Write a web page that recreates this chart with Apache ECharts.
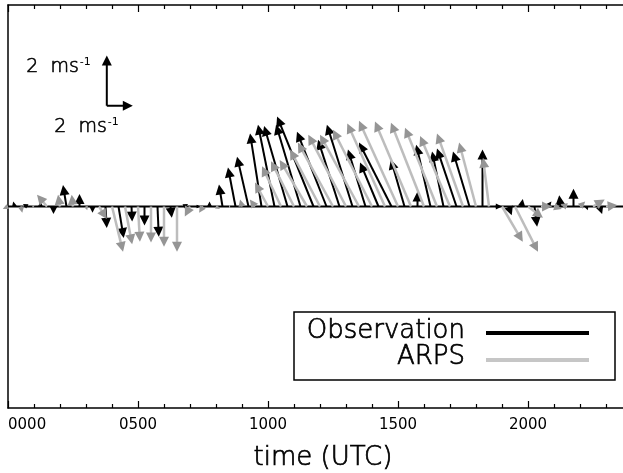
<!DOCTYPE html>
<html>
<head>
<meta charset="utf-8">
<script src="https://cdn.jsdelivr.net/npm/echarts@6/dist/echarts.min.js"></script>
<style>html,body{margin:0;padding:0;background:#fff}#c{width:623px;height:473px}</style>
</head>
<body>
<div id="c"></div>
<script>
// ---- data (hours UTC; u, v in m/s) ----
var tickLabels = ['0000', '0500', '1000', '1500', '2000', '2500'];

var obsTime = [0.25,0.75,1.25,1.75,2.25,2.75,3.25,3.75,4.25,4.75,5.25,5.75,6.25,6.75,7.25,7.75,
  8.25,8.75,9.25,9.75,10.25,10.75,11.25,11.75,12.25,12.75,13.25,13.75,14.25,14.75,15.25,15.75,
  16.25,16.75,17.25,17.75,18.25,18.75,19.25,19.75,20.25,20.75,21.25,21.75,22.25,22.75,23.25,23.75];
var obsU = [-0.1,-0.35,0,0,-0.27,0,0,0.1,0.4,0.05,0,0.1,0.1,0.35,0.3,
  0,-0.27,-0.58,-0.88,-0.88,-1.27,-1.8,-1.88,-2.8,-2.27,-1.65,-1.97,-1.35,-1.42,-2.5,-1.05,
  0,-1.1,-0.88,-1.5,-1.27,0,0.5,0.25,0.1,0.2,0.3,-0.1,0,0.1,0.2,0.1,0];
var obsV = [0.2,0.1,0.2,-0.3,0.85,0.5,-0.25,-0.85,-1.25,-0.6,-0.75,-1.2,-0.45,0.1,0,
  0.2,0.87,1.55,1.98,2.9,3.25,3.2,3.25,3.57,2.97,2.65,3.25,2.26,1.75,2.54,1.87,
  0.6,2.45,2.18,2.3,2.18,2.26,0,-0.35,0.3,-0.8,0.2,0.45,0.7,-0.15,-0.3,0.1,0];

var arpsTime = [0,0.5,1,1.5,2,2.5,3,3.5,4,4.5,5,5.5,6,6.5,7,7.5,
  8,8.5,9,9.5,10,10.5,11,11.5,12,12.5,13,13.5,14,14.5,15,15.5,
  16,16.5,17,17.5,18,18.5,19,19.5,20,20.5,21,21.5,22,22.5,23,23.5];
var arpsU = [-0.4,0.1,-0.2,-0.77,-0.15,-0.1,0.1,0.6,0.85,0.55,0.15,0,0,0,-0.4,-0.3,
  0.3,0.1,-0.15,-0.4,-1.0,-1.46,-1.77,-2.1,-2.3,-2.7,-2.9,-3.0,-3.0,-2.9,-3.0,-2.77,
  -2.54,-2.46,-2.3,-2.0,-1.3,-0.46,1.6,1.77,1.15,0.85,0.6,-0.5,0.4,0.9,0.9,0];
var arpsV = [-0.1,-0.25,0.05,0.47,0.47,0.47,-0.15,-0.5,-1.8,-1.5,-1.4,-1.43,-1.6,-1.8,-0.4,-0.25,
  -0.1,0,0.28,0.28,0.95,1.6,1.8,1.85,2.26,2.54,2.85,2.85,3.05,3.3,3.4,3.37,
  3.33,3.13,2.8,2.9,2.54,1.94,-1.4,-1.8,-0.45,0,-0.1,0.1,0.2,0.28,0.05,0];

// reference (scale) arrows: origin time, origin v, u, v
var scaleTime = [3.8, 3.8];
var scaleBase = [4.0, 4.0];
var scaleU = [0, 2];
var scaleV = [2, 0];

function zip(t, u, v, b) {
  return t.map(function (x, i) { return [x, u[i], v[i], b ? b[i] : 0]; });
}

function makeRender(lineColor, headColor, lw, headLen) {
  return function (params, api) {
    var t = api.value(0), u = api.value(1), v = api.value(2), y0 = api.value(3);
    var p0 = api.coord([t, y0]);
    var p1 = api.coord([t + u * 0.5, y0 + v]);
    var dx = p1[0] - p0[0], dy = p1[1] - p0[1];
    var L = Math.sqrt(dx * dx + dy * dy);
    if (L < 0.5) return null;
    var hl = Math.min(headLen, L * 0.95), hw = hl * 0.5;
    var ux = dx / L, uy = dy / L;
    var bx = p1[0] - ux * hl, by = p1[1] - uy * hl;
    return {
      type: 'group',
      children: [
        { type: 'line', shape: { x1: p0[0], y1: p0[1], x2: bx + ux * 1, y2: by + uy * 1 },
          style: { stroke: lineColor, lineWidth: lw } },
        { type: 'polygon', shape: { points: [[p1[0], p1[1]], [bx - uy * hw, by + ux * hw], [bx + uy * hw, by - ux * hw]] },
          style: { fill: headColor } }
      ]
    };
  };
}

var FONT = 'DejaVu Sans';
var chart = echarts.init(document.getElementById('c'), null, { renderer: 'canvas' });

function xAx(pos, showLabel) {
  return {
    type: 'value', position: pos, min: 0, max: 25, interval: 5,
    axisLine: { show: true, onZero: false, lineStyle: { color: '#000', width: 1.5 } },
    axisTick: { show: true, inside: true, length: 7, lineStyle: { color: '#000', width: 1.2 } },
    minorTick: { show: true, splitNumber: 5, length: 4, lineStyle: { color: '#000', width: 1.2 } },
    splitLine: { show: false },
    axisLabel: showLabel ? {
      show: true, margin: 10, color: '#000', fontFamily: FONT, fontSize: 15,
      alignMinLabel: 'left',
      formatter: function (val) { return tickLabels[Math.round(val / 5)]; }
    } : { show: false },
    name: showLabel ? 'time (UTC)' : '', nameLocation: 'middle', nameGap: 37,
    nameTextStyle: { fontFamily: FONT, fontWeight: 200, fontSize: 26, color: '#000',
      textBorderColor: '#000', textBorderWidth: 0.7, padding: [0, 20, 0, 0] }
  };
}

var supRich = {
  a: { fontFamily: FONT, fontWeight: 200, fontSize: 19, fill: '#000', stroke: '#000', lineWidth: 0.6 },
  s: { fontFamily: FONT, fontSize: 11, fill: '#000', verticalAlign: 'top', padding: [0, 0, 10, 1] }
};

var legendText = { fontFamily: FONT, fontWeight: 200, fontSize: 26, fill: '#000',
  stroke: '#000', lineWidth: 0.7, align: 'right', verticalAlign: 'middle' };

chart.setOption({
  animation: false,
  backgroundColor: '#fff',
  grid: { left: 8, top: 5, width: 650, height: 403, outerBoundsMode: 'none', containLabel: false },
  xAxis: [xAx('bottom', true), xAx('top', false)],
  yAxis: {
    type: 'value', min: -8, max: 8,
    axisLine: { show: true, onZero: false, lineStyle: { color: '#000', width: 1.5 } },
    axisTick: { show: false }, axisLabel: { show: false }, splitLine: { show: false }
  },
  series: [
    { type: 'line', data: [[0, 0], [25, 0]], symbol: 'none', silent: true,
      lineStyle: { color: '#000', width: 2 }, z: 1 },
    { type: 'custom', name: 'Observation', data: zip(obsTime, obsU, obsV), encode: { x: 0, y: 2 },
      renderItem: makeRender('#000', '#000', 2, 10), z: 2 },
    { type: 'custom', name: 'ARPS', data: zip(arpsTime, arpsU, arpsV), encode: { x: 0, y: 2 },
      renderItem: makeRender('#bdbdbd', '#959595', 2.5, 10), z: 3 },
    { type: 'custom', name: 'scale', data: zip(scaleTime, scaleU, scaleV, scaleBase), encode: { x: 0, y: 2 },
      renderItem: makeRender('#000', '#000', 2, 10), z: 4 }
  ],
  graphic: [
    { type: 'text', left: 26, top: 57, style: { text: '{a|2  ms}{s|-1}', rich: supRich } },
    { type: 'text', left: 54, top: 117, style: { text: '{a|2  ms}{s|-1}', rich: supRich } },
    { type: 'rect', shape: { x: 294, y: 312, width: 321, height: 68 },
      style: { fill: '#fff', stroke: '#000', lineWidth: 1.5 }, z: 100 },
    { type: 'text', x: 465, y: 331, z: 101, style: Object.assign({ text: 'Observation' }, legendText) },
    { type: 'text', x: 465, y: 357, z: 101, style: Object.assign({ text: 'ARPS' }, legendText) },
    { type: 'line', z: 101, shape: { x1: 486, y1: 333, x2: 589, y2: 333 }, style: { stroke: '#000', lineWidth: 4 } },
    { type: 'line', z: 101, shape: { x1: 486, y1: 360, x2: 589, y2: 360 }, style: { stroke: '#c6c6c6', lineWidth: 4 } }
  ]
});
</script>
</body>
</html>
